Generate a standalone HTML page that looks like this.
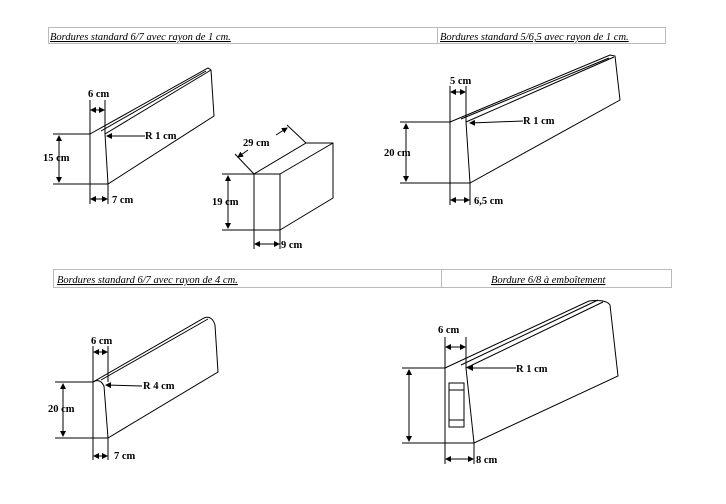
<!DOCTYPE html>
<html><head><meta charset="utf-8"><style>
html,body{margin:0;padding:0;background:#fff;width:726px;height:504px;overflow:hidden}
svg{display:block}
.h{font-family:"Liberation Serif",serif;font-style:italic;font-size:10.5px;text-decoration:underline;fill:#000}
.l{font-family:"Liberation Serif",serif;font-weight:bold;font-size:10.5px;fill:#000}
line,polyline,path,rect{stroke:#000;stroke-width:1;fill:none}
</style></head><body>
<svg width="726" height="504" viewBox="0 0 726 504" xmlns="http://www.w3.org/2000/svg">
<defs>
<marker id="a" markerWidth="6" markerHeight="6" refX="5" refY="3" orient="auto"><path d="M0,0 L6,3 L0,6 z" style="fill:#000;stroke:none"/></marker>
</defs>
<rect x="48.5" y="27.5" width="617" height="16" style="stroke:#bbb"/>
<line x1="437.5" y1="27" x2="437.5" y2="44" style="stroke:#bbb"/>
<text class="h" x="50" y="40">Bordures standard 6/7 avec rayon de 1 cm.</text>
<text class="h" x="440" y="40">Bordures standard 5/6,5 avec rayon de 1 cm.</text>
<rect x="53.5" y="269.5" width="618" height="18" style="stroke:#bbb"/>
<line x1="441.5" y1="269" x2="441.5" y2="288" style="stroke:#bbb"/>
<text class="h" x="57" y="283">Bordures standard 6/7 avec rayon de 4 cm.</text>
<text class="h" x="491" y="283">Bordure 6/8 à emboîtement</text>

<!-- Fig 1 -->
<polyline points="90,184 90,134 208,68 211,70 214,116 108,184 90,184"/>
<line x1="105" y1="134" x2="108" y2="184"/>
<line x1="105" y1="134" x2="211" y2="70"/>
<line x1="101" y1="131" x2="206" y2="71"/>
<line x1="53" y1="134" x2="90" y2="134"/><line x1="53" y1="184" x2="90" y2="184"/>
<line x1="59" y1="159" x2="59" y2="136" marker-end="url(#a)"/><line x1="59" y1="159" x2="59" y2="182" marker-end="url(#a)"/>
<text class="l" x="43" y="161">15 cm</text>
<line x1="90" y1="100" x2="90" y2="134"/><line x1="105" y1="100" x2="105" y2="134"/>
<line x1="97" y1="110" x2="91" y2="110" marker-end="url(#a)"/><line x1="97" y1="110" x2="104" y2="110" marker-end="url(#a)"/>
<text class="l" x="88" y="97">6 cm</text>
<line x1="90" y1="184" x2="90" y2="204"/><line x1="108" y1="184" x2="108" y2="204"/>
<line x1="99" y1="199" x2="91" y2="199" marker-end="url(#a)"/><line x1="99" y1="199" x2="107" y2="199" marker-end="url(#a)"/>
<text class="l" x="112" y="203">7 cm</text>
<line x1="145" y1="136" x2="107" y2="136" marker-end="url(#a)"/>
<text class="l" x="145" y="139">R 1 cm</text>

<!-- Fig 2 -->
<rect x="254" y="174" width="26" height="56"/>
<polyline points="254,174 306,143 333,143 333,198 280,230"/>
<line x1="280" y1="174" x2="333" y2="143"/>
<line x1="254" y1="174" x2="235" y2="154"/><line x1="306" y1="143" x2="287" y2="125"/>
<line x1="248" y1="150" x2="238" y2="157" marker-end="url(#a)"/><line x1="276" y1="135" x2="287" y2="128" marker-end="url(#a)"/>
<text class="l" x="243" y="146">29 cm</text>
<line x1="222" y1="174" x2="254" y2="174"/><line x1="222" y1="230" x2="254" y2="230"/>
<line x1="228" y1="202" x2="228" y2="176" marker-end="url(#a)"/><line x1="228" y1="202" x2="228" y2="228" marker-end="url(#a)"/>
<text class="l" x="212" y="205">19 cm</text>
<line x1="254" y1="230" x2="254" y2="249"/><line x1="280" y1="230" x2="280" y2="249"/>
<line x1="267" y1="244" x2="255" y2="244" marker-end="url(#a)"/><line x1="267" y1="244" x2="279" y2="244" marker-end="url(#a)"/>
<text class="l" x="281" y="248">9 cm</text>

<!-- Fig 3 -->
<polyline points="450,183 450,122 610,55 615,56 620,100 470,183 450,183"/>
<line x1="466" y1="122" x2="470" y2="183"/>
<line x1="466" y1="122" x2="614" y2="57"/>
<line x1="461" y1="119" x2="609" y2="58"/>
<line x1="400" y1="122" x2="450" y2="122"/><line x1="400" y1="183" x2="450" y2="183"/>
<line x1="406" y1="152" x2="406" y2="124" marker-end="url(#a)"/><line x1="406" y1="152" x2="406" y2="181" marker-end="url(#a)"/>
<text class="l" x="384" y="156">20 cm</text>
<line x1="450" y1="86" x2="450" y2="122"/><line x1="466" y1="86" x2="466" y2="122"/>
<line x1="458" y1="92" x2="451" y2="92" marker-end="url(#a)"/><line x1="458" y1="92" x2="465" y2="92" marker-end="url(#a)"/>
<text class="l" x="450" y="84">5 cm</text>
<line x1="450" y1="183" x2="450" y2="205"/><line x1="470" y1="183" x2="470" y2="205"/>
<line x1="460" y1="200" x2="451" y2="200" marker-end="url(#a)"/><line x1="460" y1="200" x2="469" y2="200" marker-end="url(#a)"/>
<text class="l" x="474" y="204">6,5 cm</text>
<line x1="523" y1="121" x2="470" y2="123" marker-end="url(#a)"/>
<text class="l" x="523" y="124">R 1 cm</text>

<!-- Fig 4 -->
<path d="M93,438 L93,382 L204,318 Q212,315 215,325 L218,372 L108,438 L93,438"/>
<path d="M93,382 Q100,378 104,386 L108,438"/>
<line x1="101" y1="380" x2="208" y2="319"/>
<line x1="55" y1="382" x2="93" y2="382"/><line x1="55" y1="438" x2="93" y2="438"/>
<line x1="63" y1="410" x2="63" y2="384" marker-end="url(#a)"/><line x1="63" y1="410" x2="63" y2="436" marker-end="url(#a)"/>
<text class="l" x="48" y="412">20 cm</text>
<line x1="93" y1="346" x2="93" y2="382"/><line x1="108" y1="346" x2="108" y2="382"/>
<line x1="100" y1="352" x2="94" y2="352" marker-end="url(#a)"/><line x1="100" y1="352" x2="107" y2="352" marker-end="url(#a)"/>
<text class="l" x="91" y="344">6 cm</text>
<line x1="93" y1="438" x2="93" y2="460"/><line x1="108" y1="438" x2="108" y2="460"/>
<line x1="100" y1="456" x2="94" y2="456" marker-end="url(#a)"/><line x1="100" y1="456" x2="107" y2="456" marker-end="url(#a)"/>
<text class="l" x="114" y="459">7 cm</text>
<line x1="142" y1="386" x2="106" y2="385" marker-end="url(#a)"/>
<text class="l" x="143" y="389">R 4 cm</text>

<!-- Fig 5 -->
<path d="M445,443 L445,368 L589,301 Q606,299 610,305 L618,376 L474,443 L445,443"/>
<line x1="466" y1="368" x2="474" y2="443"/>
<line x1="466" y1="368" x2="603" y2="302"/>
<line x1="461" y1="365" x2="598" y2="300"/>
<rect x="449" y="383" width="15" height="44"/>
<line x1="449" y1="390" x2="464" y2="390"/><line x1="449" y1="420" x2="464" y2="420"/>
<line x1="402" y1="368" x2="445" y2="368"/><line x1="402" y1="443" x2="445" y2="443"/>
<line x1="409" y1="405" x2="409" y2="370" marker-end="url(#a)"/><line x1="409" y1="405" x2="409" y2="441" marker-end="url(#a)"/>
<line x1="445" y1="337" x2="445" y2="368"/><line x1="466" y1="337" x2="466" y2="368"/>
<line x1="455" y1="347" x2="446" y2="347" marker-end="url(#a)"/><line x1="455" y1="347" x2="465" y2="347" marker-end="url(#a)"/>
<text class="l" x="438" y="333">6 cm</text>
<line x1="445" y1="443" x2="445" y2="464"/><line x1="474" y1="443" x2="474" y2="464"/>
<line x1="460" y1="459" x2="446" y2="459" marker-end="url(#a)"/><line x1="460" y1="459" x2="473" y2="459" marker-end="url(#a)"/>
<text class="l" x="476" y="463">8 cm</text>
<line x1="516" y1="368" x2="468" y2="368" marker-end="url(#a)"/>
<text class="l" x="516" y="372">R 1 cm</text>
</svg>
</body></html>
